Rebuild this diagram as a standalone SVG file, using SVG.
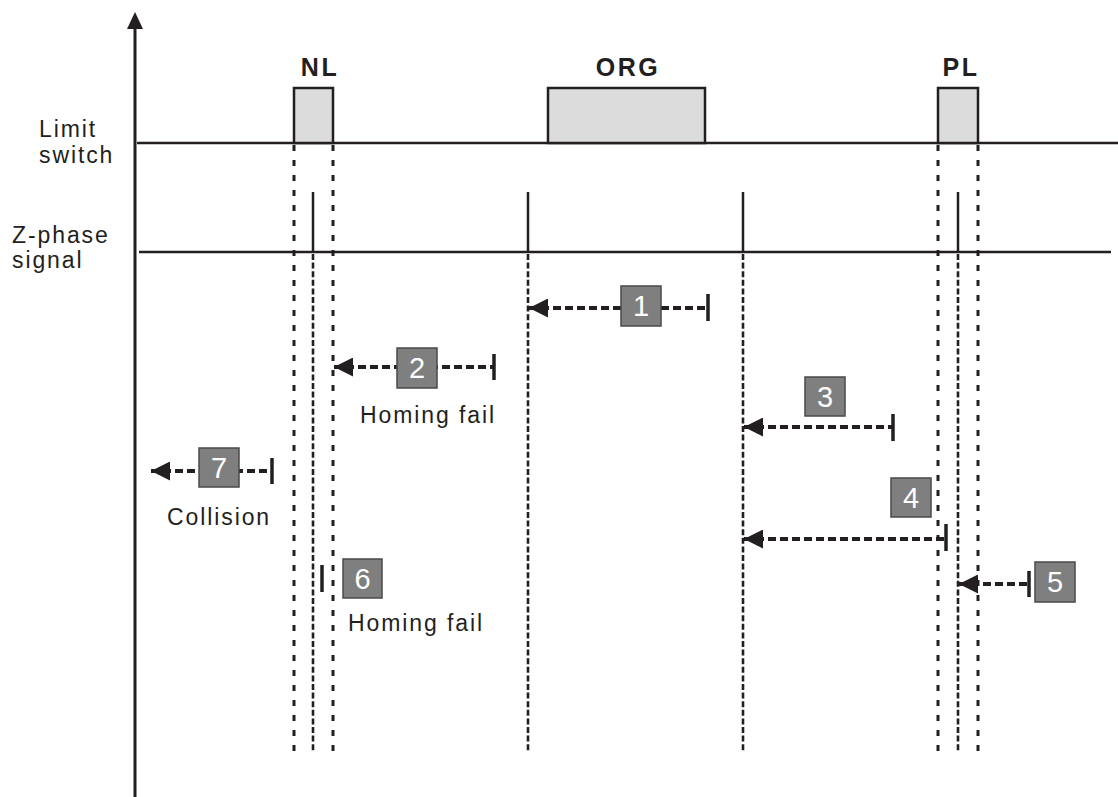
<svg xmlns="http://www.w3.org/2000/svg" width="1118" height="797" viewBox="0 0 1118 797">
  <style>
    .lbl { font-family: "Liberation Sans", Arial, sans-serif; font-size: 23px; fill: #231f20; letter-spacing: 1.9px; }
    .ttl { font-family: "Liberation Sans", Arial, sans-serif; font-size: 25px; font-weight: bold; fill: #231f20; letter-spacing: 2.6px; text-anchor: middle; }
    .num { font-family: "Liberation Sans", Arial, sans-serif; font-size: 29px; fill: #ffffff; text-anchor: middle; }
    .box { fill: #7f7f7f; stroke: #4a4a4a; stroke-width: 1.5; }
    .sig { stroke: #231f20; stroke-width: 2.5; fill: none; }
    .sw { fill: #dcdcdc; stroke: #231f20; stroke-width: 2.5; }
    .dotA { stroke: #231f20; stroke-width: 3; stroke-dasharray: 6 9; }
    .dotB { stroke: #231f20; stroke-width: 2.6; stroke-dasharray: 6 2.6; }
    .conn { stroke: #231f20; stroke-width: 4; stroke-dasharray: 8 4; fill: none; }
    .bar { stroke: #231f20; stroke-width: 3.5; }
  </style>
  <defs>
    <marker id="ah" viewBox="0 0 19 19" refX="19" refY="9.5" markerWidth="19" markerHeight="19" markerUnits="userSpaceOnUse" orient="auto-start-reverse">
      <path d="M0,0 L19,9.5 L0,19 Z" fill="#231f20"/>
    </marker>
  </defs>
  <rect width="1118" height="797" fill="#ffffff"/>

  <g id="axis">
    <line x1="135" y1="26" x2="135" y2="797" stroke="#231f20" stroke-width="3"/>
    <polygon points="135,12 127,29 143,29" fill="#231f20"/>
  </g>

  <g id="labels">
    <text class="lbl" x="39" y="137">Limit</text>
    <text class="lbl" x="39" y="163">switch</text>
    <text class="lbl" x="12" y="243">Z-phase</text>
    <text class="lbl" x="12" y="268">signal</text>
  </g>

  <g id="limit-switch">
    <line class="sig" x1="137" y1="143" x2="1118" y2="143"/>
  </g>
  <g id="NL">
    <rect class="sw" x="294" y="88" width="39" height="55"/>
    <text class="ttl" x="320" y="76">NL</text>
  </g>
  <g id="ORG">
    <rect class="sw" x="548" y="88" width="157" height="55"/>
    <text class="ttl" x="628" y="76">ORG</text>
  </g>
  <g id="PL">
    <rect class="sw" x="938" y="88" width="40" height="55"/>
    <text class="ttl" x="961" y="76">PL</text>
  </g>

  <g id="z-phase">
    <line class="sig" x1="139" y1="252" x2="1111" y2="252"/>
    <line class="sig" x1="313" y1="192" x2="313" y2="252"/>
    <line class="sig" x1="528" y1="192" x2="528" y2="252"/>
    <line class="sig" x1="743" y1="192" x2="743" y2="252"/>
    <line class="sig" x1="958" y1="192" x2="958" y2="252"/>
  </g>

  <g id="guides">
    <line class="dotA" x1="294" y1="145" x2="294" y2="752"/>
    <line class="dotA" x1="333" y1="145" x2="333" y2="752"/>
    <line class="dotA" x1="938" y1="145" x2="938" y2="752"/>
    <line class="dotA" x1="978" y1="145" x2="978" y2="752"/>
    <line class="dotB" x1="313" y1="254" x2="313" y2="752"/>
    <line class="dotB" x1="528" y1="254" x2="528" y2="752"/>
    <line class="dotB" x1="743" y1="254" x2="743" y2="752"/>
    <line class="dotB" x1="958" y1="254" x2="958" y2="752"/>
  </g>

  <g id="connectors">
    <line class="conn" x1="529" y1="308" x2="708" y2="308" marker-start="url(#ah)"/>
    <line class="bar" x1="708" y1="294" x2="708" y2="321"/>

    <line class="conn" x1="334" y1="367" x2="494" y2="367" marker-start="url(#ah)"/>
    <line class="bar" x1="494" y1="354" x2="494" y2="380"/>

    <line class="conn" x1="744" y1="427" x2="893" y2="427" marker-start="url(#ah)"/>
    <line class="bar" x1="893" y1="414" x2="893" y2="441"/>

    <line class="conn" x1="744" y1="539" x2="946" y2="539" marker-start="url(#ah)"/>
    <line class="bar" x1="946" y1="524" x2="946" y2="551"/>

    <line class="conn" x1="959" y1="584" x2="1029" y2="584" marker-start="url(#ah)"/>
    <line class="bar" x1="1029" y1="571" x2="1029" y2="597"/>

    <line class="bar" x1="322" y1="565" x2="322" y2="592"/>

    <line class="conn" x1="151" y1="471" x2="272" y2="471" marker-start="url(#ah)"/>
    <line class="bar" x1="272" y1="458" x2="272" y2="484"/>
  </g>

  <g id="step1">
    <rect class="box" x="621" y="286" width="40" height="40"/>
    <text class="num" x="641" y="316">1</text>
  </g>
  <g id="step2">
    <rect class="box" x="397" y="348" width="40" height="40"/>
    <text class="num" x="417" y="378">2</text>
    <text class="lbl" x="360" y="423">Homing fail</text>
  </g>
  <g id="step3">
    <rect class="box" x="805" y="377" width="40" height="39"/>
    <text class="num" x="825" y="407">3</text>
  </g>
  <g id="step4">
    <rect class="box" x="891" y="478" width="40" height="39"/>
    <text class="num" x="911" y="508">4</text>
  </g>
  <g id="step5">
    <rect class="box" x="1035" y="562" width="40" height="40"/>
    <text class="num" x="1055" y="592">5</text>
  </g>
  <g id="step6">
    <rect class="box" x="343" y="559" width="39" height="39"/>
    <text class="num" x="362.5" y="589">6</text>
    <text class="lbl" x="348" y="631">Homing fail</text>
  </g>
  <g id="step7">
    <rect class="box" x="199" y="448" width="40" height="39"/>
    <text class="num" x="219" y="478">7</text>
    <text class="lbl" x="167" y="525">Collision</text>
  </g>
</svg>
